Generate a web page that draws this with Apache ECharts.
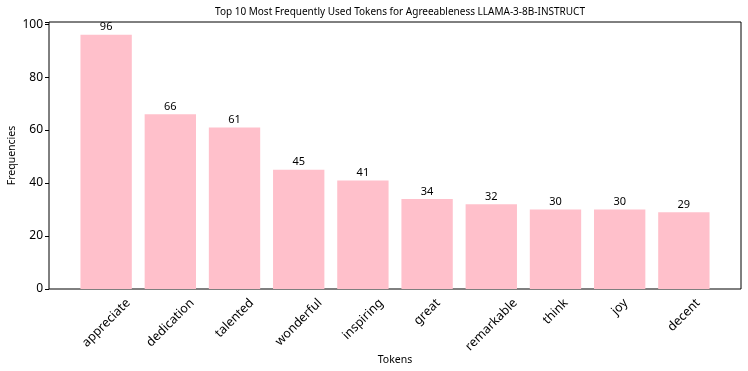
<!DOCTYPE html>
<html>
<head>
<meta charset="utf-8">
<script src="https://cdn.jsdelivr.net/npm/echarts@6/dist/echarts.min.js"></script>
<style>
  html, body { margin: 0; padding: 0; background: #fff; }
  #chart { width: 748px; height: 371px; }
</style>
</head>
<body>
<div id="chart"></div>
<script>
// 数据
const tokens = ['appreciate', 'dedication', 'talented', 'wonderful', 'inspiring', 'great', 'remarkable', 'think', 'joy', 'decent']
const frequencies = [96, 66, 61, 45, 41, 34, 32, 30, 30, 29]
const yTicks = [0, 20, 40, 60, 80, 100]

const FONT = 'Noto Sans'
const LABEL_SIZE = 12.5

// 测量文字宽度, 用来模拟 matplotlib 45 度标签的居中方式
let cvs = document.createElement('canvas').getContext('2d')
cvs.font = LABEL_SIZE + 'px "' + FONT + '"'

let rich = {}
tokens.forEach((t, i) => {
    let w = cvs.measureText(t).width
    rich['p' + i] = {
        fontFamily: FONT,
        fontSize: LABEL_SIZE,
        color: '#000',
        padding: [w / 2, w / 2, 0, 0]
    }
})

// 外框: left 49, right 741, top 22, bottom 289
// 数据区域按 matplotlib 的 0.05 margin 缩进
const frame = { left: 49, right: 7, top: 22, bottom: 82 }
const unit = 692 / 10.78
const inset = 0.39 * unit

var myChart = echarts.init(document.getElementById('chart'))
myChart.setOption({
    animation: false,
    textStyle: { fontFamily: FONT },
    title: {
        text: 'Top 10 Most Frequently Used Tokens for Agreeableness LLAMA-3-8B-INSTRUCT',
        left: 395,
        top: 2,
        textAlign: 'center',
        textStyle: { fontFamily: FONT, fontSize: 10, fontWeight: 'normal', color: '#000' }
    },
    grid: [
        {
            left: frame.left, right: frame.right, top: frame.top, bottom: frame.bottom,
            outerBoundsMode: 'none', containLabel: false,
            show: true, borderColor: '#000', borderWidth: 1
        },
        {
            left: frame.left + inset, right: frame.right + inset, top: frame.top, bottom: frame.bottom,
            outerBoundsMode: 'none', containLabel: false
        }
    ],
    xAxis: [
        {
            gridIndex: 0, type: 'value', min: 0, max: 1, show: false
        },
        {
            gridIndex: 1,
            type: 'category',
            data: tokens,
            name: 'Tokens',
            nameLocation: 'middle',
            nameMoveOverlap: false,
            nameGap: 66,
            nameTextStyle: { fontFamily: FONT, fontSize: 10.5, color: '#000' },
            axisLine: { show: false },
            axisTick: { alignWithLabel: true, length: 4, lineStyle: { color: '#000' } },
            axisLabel: {
                interval: 0,
                rotate: 45,
                align: 'center',
                verticalAlign: 'middle',
                margin: 12,
                formatter: (v, i) => '{p' + i + '|' + v + '}',
                rich: rich
            }
        }
    ],
    yAxis: [
        {
            gridIndex: 0,
            type: 'value',
            min: 0,
            max: 100.8,
            interval: 20,
            name: 'Frequencies',
            nameLocation: 'middle',
            nameMoveOverlap: false,
            nameGap: 31,
            nameTextStyle: { fontFamily: FONT, fontSize: 10.5, color: '#000' },
            axisLine: { show: false },
            axisTick: { show: true, length: 4, lineStyle: { color: '#000' } },
            axisLabel: {
                margin: 6,
                fontFamily: FONT, fontSize: 12, color: '#000',
                formatter: v => yTicks.includes(v) ? String(v) : ''
            },
            splitLine: { show: false }
        },
        {
            gridIndex: 1, type: 'value', min: 0, max: 100.8, show: false
        }
    ],
    series: [{
        type: 'bar',
        xAxisIndex: 1,
        yAxisIndex: 1,
        data: frequencies,
        barCategoryGap: '20%',
        itemStyle: { color: '#FFC0CB' },
        label: {
            show: true,
            position: 'top',
            distance: 2,
            fontFamily: FONT,
            fontSize: 11,
            color: '#000'
        }
    }]
})
</script>
</body>
</html>
